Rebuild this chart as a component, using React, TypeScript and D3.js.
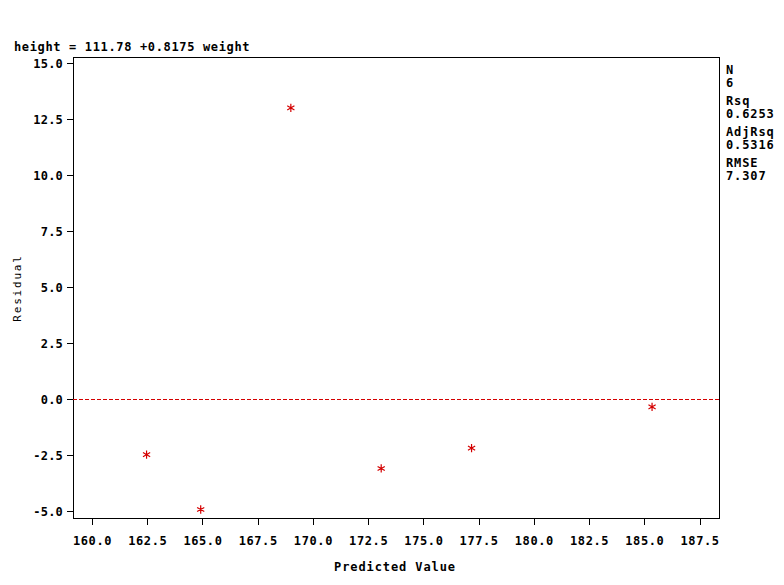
import React from "react";
import * as d3 from "d3";

const predicted = [162.47, 164.92, 169.0, 173.09, 177.18, 185.35];
const residuals = [-2.47, -4.92, 13.0, -3.09, -2.18, -0.34];
const xTicks = [160, 162.5, 165, 167.5, 170, 172.5, 175, 177.5, 180, 182.5, 185, 187.5];
const yTicks = [-5, -2.5, 0, 2.5, 5, 7.5, 10, 12.5, 15];
const statLabels = ["N", "Rsq", "AdjRsq", "RMSE"];
const statValues = ["6", "0.6253", "0.5316", "7.307"];
const titleText = "height = 111.78 +0.8175 weight";

const W = 784, H = 585;
const left = 73, right = 719, top = 57, bottom = 518;
const FONT = "'DejaVu Sans Mono', monospace";
const RED = "#d40000";

export default function App() {
  const x = d3.scaleLinear().domain([159.14, 188.38]).range([left, right]);
  const y = d3.scaleLinear().domain([-5.3, 15.27]).range([bottom, top]);
  const star = d3.symbol((d3 as any).symbolAsterisk ?? d3.symbolCross, 48)();
  return (
    <svg width={W} height={H} style={{ position: "absolute", left: 0, top: 0, background: "#fff" }}>
      <text x={14} y={51} fontFamily={FONT} fontWeight="bold" fontSize={12} letterSpacing={0.65} fill="#000">{titleText}</text>
      <rect x={left + 0.5} y={top + 0.5} width={right - left} height={bottom - top} fill="none" stroke="#000" strokeWidth={1} />
      {yTicks.map((t) => (
        <g key={"y" + t}>
          <line x1={left - 6} x2={left} y1={Math.round(y(t)) + 0.5} y2={Math.round(y(t)) + 0.5} stroke="#000" />
          <text x={63} y={y(t) + 4.5} textAnchor="end" fontFamily={FONT} fontWeight="bold" fontSize={12} letterSpacing={0.2}>{t.toFixed(1)}</text>
        </g>
      ))}
      {xTicks.map((t) => (
        <g key={"x" + t}>
          <line x1={Math.round(x(t)) + 0.5} x2={Math.round(x(t)) + 0.5} y1={bottom} y2={bottom + 7} stroke="#000" />
          <text x={x(t) + 0.5} y={545} textAnchor="middle" fontFamily={FONT} fontWeight="bold" fontSize={12} letterSpacing={0.6}>{t.toFixed(1)}</text>
        </g>
      ))}
      <line x1={left} x2={right} y1={Math.round(y(0)) + 0.5} y2={Math.round(y(0)) + 0.5} stroke={RED} strokeDasharray="4,2" />
      {predicted.map((p, i) => (
        <path key={i} d={star ?? ""} transform={`translate(${x(p)},${y(residuals[i])})`} fill="none" stroke={RED} strokeWidth={1.2} />
      ))}
      <text transform={`translate(21,288) rotate(-90)`} textAnchor="middle" fontFamily={FONT} fontSize={11} letterSpacing={1.8}>Residual</text>
      <text x={395} y={571} textAnchor="middle" fontFamily={FONT} fontWeight="bold" fontSize={12} letterSpacing={0.9}>Predicted Value</text>
      {statLabels.map((s, i) => (
        <g key={s}>
          <text x={726} y={74 + i * 31} fontFamily={FONT} fontWeight="bold" fontSize={12} letterSpacing={0.9}>{s}</text>
          <text x={726} y={87 + i * 31} fontFamily={FONT} fontWeight="bold" fontSize={12} letterSpacing={0.9}>{statValues[i]}</text>
        </g>
      ))}
    </svg>
  );
}
